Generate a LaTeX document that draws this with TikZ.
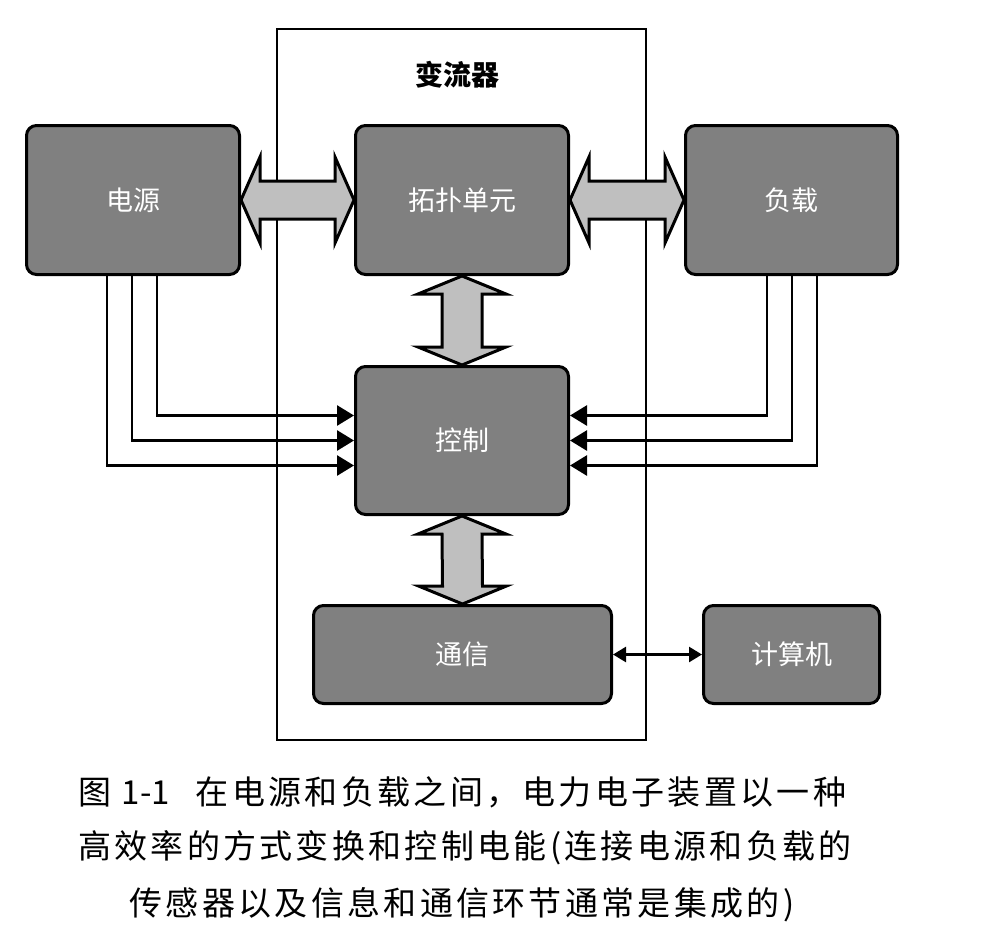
\documentclass[tikz,border=0pt]{standalone}
\usepackage{fontspec}
\setmainfont{Noto Sans CJK SC}
\usetikzlibrary{arrows.meta, calc, positioning}
\tikzset{blk/.style={draw=black, line width=3pt, fill=black!50, rounded corners=10pt, text=white, font=\fontsize{27}{30}\selectfont}}
\tikzset{barr/.style={draw=black, line width=3pt, fill=black!25, line join=miter}}
\tikzset{sig/.style={line width=2.8pt, -{Triangle[length=17pt,width=20pt]}}}
\tikzset{lnk/.style={line width=2.5pt, {Triangle[length=13pt,width=15pt]}-{Triangle[length=13pt,width=15pt]}}}
\tikzset{capt/.style={inner sep=0pt, font=\fontsize{33}{36}\selectfont\addfontfeature{LetterSpace=10}}}

\begin{document}
\begin{tikzpicture}[x=1pt, y=-1pt]
\useasboundingbox (0,0) rectangle (987,951);

% converter frame
\node[draw, line width=2.5pt, minimum width=369pt, minimum height=711pt] (frame) at (461.5,384.5) {};
\node[font=\bfseries\fontsize{28}{30}\selectfont] (framelbl) at (457,75) {变流器};

% blocks
\node[blk, minimum width=213pt, minimum height=149pt] (yuan) at (133,200) {电源};
\node[blk, minimum width=213pt, minimum height=149pt] (tuopu) at (462,200) {拓扑单元};
\node[blk, minimum width=212pt, minimum height=149pt] (fuzai) at (791.5,200) {负载};
\node[blk, minimum width=213pt, minimum height=148pt] (kongzhi) at (462,440.5) {控制};
\node[blk, minimum width=298pt, minimum height=98pt] (tongxin) at (462.5,654.5) {通信};
\node[blk, minimum width=176pt, minimum height=98pt] (jisuanji) at (791.5,654.5) {计算机};

% power arrows
\draw[barr] (yuan.east) -- ++(19,-43) -- ++(0,24) -- ($(tuopu.west)+(-19,-19)$) -- ++(0,-24) -- (tuopu.west) -- ++(-19,43) -- ++(0,-24) -- ($(yuan.east)+(19,19)$) -- ++(0,24) -- cycle;
\draw[barr] (tuopu.east) -- ++(19,-43) -- ++(0,24) -- ($(fuzai.west)+(-19,-19)$) -- ++(0,-24) -- (fuzai.west) -- ++(-19,43) -- ++(0,-24) -- ($(tuopu.east)+(19,19)$) -- ++(0,24) -- cycle;
\draw[barr] (tuopu.south) -- ++(-44,18) -- ++(24,0) -- ($(kongzhi.north)+(-20,-18)$) -- ++(-24,0) -- (kongzhi.north) -- ++(44,-18) -- ++(-24,0) -- ($(tuopu.south)+(20,18)$) -- ++(24,0) -- cycle;
\draw[barr] (kongzhi.south) -- ++(-44,18) -- ++(24,0) -- ($(tongxin.north)+(-20,-18)$) -- ++(-24,0) -- (tongxin.north) -- ++(44,-18) -- ++(-24,0) -- ($(kongzhi.south)+(20,18)$) -- ++(24,0) -- cycle;

% sensor signals
\draw[sig] ([xshift=24pt]yuan.south) |- ([yshift=25pt]kongzhi.west);
\draw[sig] ([xshift=-1pt]yuan.south) |- (kongzhi.west);
\draw[sig] ([xshift=-26pt]yuan.south) |- ([yshift=-25pt]kongzhi.west);
\draw[sig] ([xshift=-24.5pt]fuzai.south) |- ([yshift=25pt]kongzhi.east);
\draw[sig] ([xshift=0.5pt]fuzai.south) |- (kongzhi.east);
\draw[sig] ([xshift=25.5pt]fuzai.south) |- ([yshift=-25pt]kongzhi.east);

\draw[lnk] (tongxin) -- (jisuanji);

% caption
\node[capt, anchor=west] (cap1) at (78,792) {图 {\addfontfeature{LetterSpace=0}1-1}\hspace{26pt}在电源和负载之间，电力电子装置以一种};
\node[capt, anchor=west] (cap2) at (78,848) {高效率的方式变换和控制电能(连接电源和负载的};
\node[capt] (cap3) at (462,905) {传感器以及信息和通信环节通常是集成的)};
\end{tikzpicture}
\end{document}
